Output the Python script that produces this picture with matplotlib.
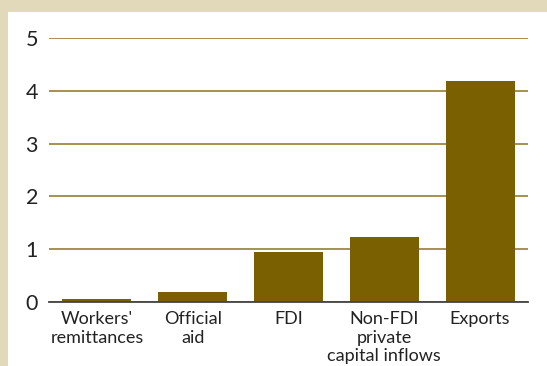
import matplotlib.pyplot as plt
from matplotlib.patches import Rectangle

categories = ["Workers'\nremittances", "Official\naid", "FDI",
              "Non-FDI\nprivate\ncapital inflows", "Exports"]
values = [0.05, 0.18, 0.94, 1.23, 4.19]
yticks = [0, 1, 2, 3, 4, 5]

bar_color = "#7a6000"
grid_color = "#8a7420"

plt.rcParams['font.family'] = ['Lato', 'DejaVu Sans']

fig = plt.figure(figsize=(5.47, 3.66), dpi=100)
fig.patch.set_facecolor("#e2d9bb")
# white panel inside the beige frame
fig.patches.append(Rectangle((8 / 547, 0), 1 - 8 / 547, 1 - 12 / 366,
                             transform=fig.transFigure, facecolor="white",
                             edgecolor="none", zorder=-5))

ax = fig.add_axes([49 / 547, 64.3 / 366, 479 / 547, (301.7 - 38.3) / 366])
ax.set_zorder(2)
ax.set_facecolor("none")

x = range(len(categories))
ax.bar(x, values, width=0.72, color=bar_color, zorder=3)

ax.set_xlim(-0.5, 4.5)
ax.set_ylim(0, 5)
ax.set_yticks(yticks)
ax.set_yticklabels([str(v) for v in yticks], fontsize=15.5, color="#222222")
ax.set_xticks(list(x))
ax.set_xticklabels(categories, fontsize=13, color="#222222", linespacing=1.18)

ax.yaxis.grid(True, color=grid_color, linewidth=1.1, zorder=1)
ax.tick_params(axis="both", length=0)
ax.tick_params(axis="y", pad=8)
ax.tick_params(axis="x", pad=7)

for side in ["top", "right", "left"]:
    ax.spines[side].set_visible(False)
ax.spines["bottom"].set_color("#444444")
ax.spines["bottom"].set_linewidth(1.3)
ax.spines["bottom"].set_zorder(4)

fig.savefig("out.png", dpi=100, facecolor=fig.get_facecolor())
